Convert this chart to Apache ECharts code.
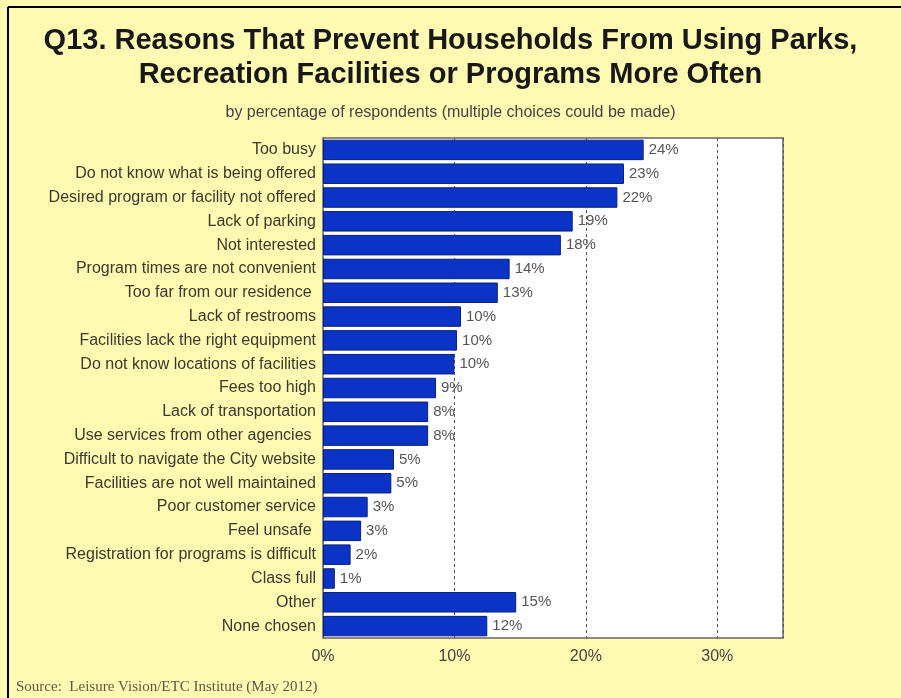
<!DOCTYPE html>
<html>
<head>
<meta charset="utf-8">
<script src="https://cdn.jsdelivr.net/npm/echarts@6/dist/echarts.min.js"></script>
<style>
html,body{margin:0;padding:0;background:#FFFAB2;}
#c{width:901px;height:698px;}
</style>
</head>
<body>
<div id="c"></div>
<script>
const categories = [
  "Too busy",
  "Do not know what is being offered",
  "Desired program or facility not offered",
  "Lack of parking",
  "Not interested",
  "Program times are not convenient",
  "Too far from our residence ",
  "Lack of restrooms",
  "Facilities lack the right equipment",
  "Do not know locations of facilities",
  "Fees too high",
  "Lack of transportation",
  "Use services from other agencies ",
  "Difficult to navigate the City website",
  "Facilities are not well maintained",
  "Poor customer service",
  "Feel unsafe ",
  "Registration for programs is difficult",
  "Class full",
  "Other",
  "None chosen"
];
const values = [24.4, 22.9, 22.4, 19.0, 18.1, 14.2, 13.3, 10.5, 10.2, 10.0, 8.6, 8.0, 8.0, 5.4, 5.2, 3.4, 2.9, 2.1, 0.9, 14.7, 12.5];
const valueLabels = ["24%","23%","22%","19%","18%","14%","13%","10%","10%","10%","9%","8%","8%","5%","5%","3%","3%","2%","1%","15%","12%"];
const xTicks = [0, 10, 20, 30];
const titleLines = ["Q13. Reasons That Prevent Households From Using Parks,", "Recreation Facilities or Programs More Often"];
const subtitle = "by percentage of respondents (multiple choices could be made)";
const source = "Source:  Leisure Vision/ETC Institute (May 2012)";

const font = 'Liberation Sans, Arial, sans-serif';
const chart = echarts.init(document.getElementById('c'), null, {renderer: 'canvas'});
chart.setOption({
  backgroundColor: '#FFFAB2',
  animation: false,
  title: [{
    text: titleLines[0], left: 'center', top: 19,
    textStyle: {fontFamily: font, fontWeight: 'bold', fontSize: 29, color: '#181818', lineHeight: 34}
  }, {
    text: titleLines[1], left: 'center', top: 53,
    textStyle: {fontFamily: font, fontWeight: 'bold', fontSize: 29, color: '#181818', lineHeight: 34}
  }, {
    text: subtitle, left: 'center', top: 99,
    textStyle: {fontFamily: font, fontWeight: 'normal', fontSize: 16, color: '#444', lineHeight: 18}
  }],
  graphic: [
    {type: 'line', shape: {x1: 8, y1: 7, x2: 901, y2: 7}, style: {stroke: '#000', lineWidth: 2}},
    {type: 'line', shape: {x1: 8, y1: 7, x2: 8, y2: 698}, style: {stroke: '#000', lineWidth: 2}},
    {type: 'text', left: 16, top: 680, style: {text: source, font: '15px "Liberation Serif", "Times New Roman", serif', fill: '#5a5a48'}}
  ],
  grid: {left: 323, top: 138, width: 460, height: 500, show: true, backgroundColor: '#ffffff', borderColor: '#666', borderWidth: 1.5},
  xAxis: {
    type: 'value', min: 0, max: 35, interval: 10,
    axisLine: {show: false}, axisTick: {show: false},
    axisLabel: {
      margin: 11, fontSize: 16, color: '#444', fontFamily: font,
      showMaxLabel: false,
      formatter: v => xTicks.indexOf(v) >= 0 ? v + '%' : ''
    },
    splitLine: {show: true, lineStyle: {type: [3, 3], color: '#555', width: 1}}
  },
  yAxis: {
    type: 'category', data: categories, inverse: true,
    axisLine: {show: false}, axisTick: {show: false},
    axisLabel: {margin: 7, fontSize: 16, color: '#3a3a2c', fontFamily: font}
  },
  series: [{
    type: 'bar', data: values, barCategoryGap: '14%',
    itemStyle: {color: '#0B33C6', borderColor: '#08207A', borderWidth: 1},
    label: {show: true, position: 'right', distance: 5, fontSize: 15, color: '#555', fontFamily: font,
      formatter: p => valueLabels[p.dataIndex]}
  }]
});
</script>
</body>
</html>
